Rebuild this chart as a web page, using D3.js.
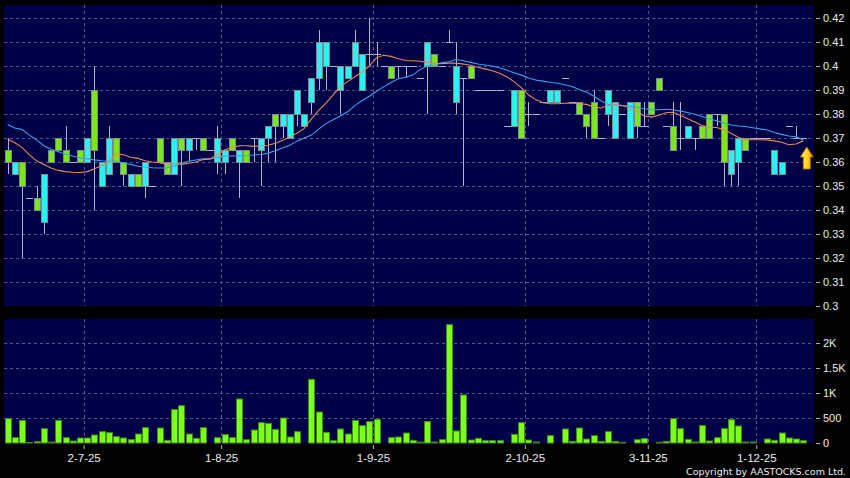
<!DOCTYPE html>
<html>
<head>
<meta charset="utf-8">
<script src="https://cdn.jsdelivr.net/npm/d3@7"></script>
<style>
body { margin: 0; background: #000; }
svg { display: block; font-family: "DejaVu Sans", Verdana, sans-serif; }
</style>
</head>
<body>
<div id="chart"></div>
<script>
// daily candles, one entry per trading day (oldest first)
var openV = [
	.365,.355,.36,.345,.345,.335,.365,.37,.365,.36,
	.365,.36,.39,.35,.355,.37,.36,.35,.355,.35,
	.35,.37,.36,.355,.37,.365,.37,.37,.365,.36,
	.36,.37,.36,.365,.37,.365,.37,.38,.375,.37,
	.38,.375,.385,.395,.40,.40,.39,.395,.40,.39,
	.405,.405,.40,.40,.40,.40,.40,.395,.40,.405,
	.40,.41,.385,.395,.40,.39,.39,.39,.39,.375,
	.375,.39,.38,.38,.385,.385,.385,.395,.385,.385,
	.38,.385,.37,.38,.37,.38,.37,.385,.375,.385,
	.395,.375,.375,.37,.37,.37,.375,.38,.38,.38,
	.355,.36,.37,.37,.37,.37,.355,.355,.375,.37,
	.37];
var highV = [
	.37,.36,.36,.345,.35,.355,.365,.37,.375,.36,
	.365,.37,.40,.36,.375,.37,.36,.355,.355,.36,
	.35,.37,.36,.37,.37,.37,.37,.37,.365,.375,
	.365,.37,.365,.365,.37,.37,.375,.38,.38,.38,
	.39,.38,.395,.415,.41,.40,.40,.40,.415,.405,
	.42,.41,.40,.40,.40,.40,.40,.395,.41,.405,
	.40,.415,.41,.395,.40,.39,.39,.39,.39,.375,
	.39,.39,.385,.38,.385,.39,.39,.395,.385,.385,
	.38,.39,.37,.39,.385,.38,.385,.385,.385,.385,
	.395,.375,.385,.385,.375,.37,.375,.38,.38,.38,
	.365,.37,.37,.37,.37,.37,.365,.36,.375,.375,
	.37];
var lowV = [
	.355,.355,.32,.345,.34,.33,.36,.365,.36,.36,
	.36,.36,.34,.35,.355,.36,.35,.35,.35,.345,
	.35,.36,.355,.355,.35,.36,.365,.365,.365,.355,
	.355,.365,.345,.36,.36,.35,.36,.36,.37,.37,
	.375,.375,.38,.39,.39,.40,.38,.395,.40,.39,
	.40,.40,.40,.395,.395,.395,.40,.395,.38,.40,
	.40,.41,.38,.35,.395,.39,.39,.39,.39,.375,
	.375,.37,.375,.38,.385,.385,.385,.395,.385,.38,
	.37,.37,.37,.375,.37,.38,.37,.37,.375,.38,
	.39,.375,.365,.365,.37,.365,.37,.37,.375,.35,
	.35,.35,.365,.37,.37,.37,.355,.355,.375,.37,
	.37];
var closeV = [
	.36,.36,.35,.345,.34,.355,.36,.365,.36,.36,
	.36,.37,.365,.36,.37,.36,.355,.355,.35,.36,
	.35,.36,.355,.37,.365,.37,.37,.365,.365,.37,
	.365,.365,.365,.36,.37,.37,.375,.375,.38,.38,
	.39,.38,.395,.41,.41,.40,.40,.40,.41,.405,
	.405,.405,.40,.395,.40,.40,.40,.395,.41,.40,
	.40,.41,.40,.395,.395,.39,.39,.39,.39,.375,
	.39,.37,.38,.38,.385,.39,.39,.395,.385,.38,
	.375,.37,.37,.39,.385,.38,.385,.375,.375,.38,
	.39,.375,.365,.37,.375,.37,.37,.37,.38,.36,
	.365,.37,.365,.37,.37,.37,.365,.36,.375,.37,
	.37];
var volumeV = [
	487,107,453,10,27,287,20,453,107,40,
	100,100,160,227,207,127,100,67,180,307,
	0,300,53,667,747,180,93,307,0,107,
	167,107,880,67,260,407,393,273,500,120,
	227,0,1273,620,213,47,280,180,453,347,
	427,473,0,107,120,200,53,20,430,20,
	67,2367,240,960,60,93,47,47,47,0,
	173,407,60,20,0,147,0,280,33,300,
	80,147,33,227,33,13,0,67,87,0,
	13,33,487,287,73,20,347,40,107,287,
	467,340,20,20,0,80,53,200,100,80,
	47];
// moving averages
var maShort = [
	.3695,.3680,.3660,.3630,.3605,.3590,.3575,.3565,.3560,.3557,
	.3556,.3560,.3572,.3585,.3600,.3635,.3630,.3620,.3615,.3605,
	.3600,.3597,.3590,.3595,.3590,.3595,.3600,.3610,.3613,.3630,
	.3650,.3660,.3668,.3668,.3665,.3668,.3670,.3678,.3690,.3705,
	.3720,.3740,.3780,.3815,.3845,.3880,.3915,.3935,.3955,.3975,
	.4000,.4035,.4045,.4040,.4030,.4023,.4022,.4020,.4015,.4010,
	.4010,.4012,.4012,.4008,.4003,.3995,.3988,.3980,.3970,.3955,
	.3935,.3910,.3880,.3860,.3847,.3843,.3843,.3845,.3846,.3843,
	.3840,.3830,.3825,.3835,.3838,.3835,.3825,.3812,.3792,.3787,
	.3795,.3805,.3807,.3795,.3780,.3767,.3752,.3745,.3744,.3735,
	.3720,.3703,.3693,.3693,.3693,.3692,.3688,.3682,.3672,.3675,
	.3688];
var maLong = [
	.3756,.3742,.3735,.3712,.3692,.3668,.3653,.3643,.3632,.3625,
	.3617,.3613,.3609,.3605,.3603,.3603,.3597,.3590,.3582,.3578,
	.3576,.3575,.3575,.3583,.3595,.3603,.3608,.3613,.3613,.3620,
	.3624,.3625,.3626,.3627,.3629,.3631,.3637,.3647,.3658,.3670,
	.3687,.3700,.3712,.3737,.3760,.3776,.3792,.3809,.3835,.3856,
	.3874,.3895,.3914,.3931,.3947,.3953,.3962,.3985,.4000,.4005,
	.4013,.4018,.4027,.4022,.4015,.4008,.4004,.4000,.3993,.3983,
	.3972,.3962,.3950,.3942,.3937,.3932,.3928,.3922,.3915,.3902,
	.3892,.3875,.3855,.3840,.3837,.3835,.3832,.3828,.3822,.3818,
	.3818,.3820,.3818,.3812,.3806,.3799,.3790,.3780,.3772,.3763,
	.3754,.3750,.3748,.3743,.3738,.3733,.3723,.3715,.3708,.3705,
	.3692];

var priceTicks = [0.30,0.31,0.32,0.33,0.34,0.35,0.36,0.37,0.38,0.39,0.40,0.41,0.42];
var volTicks = [0,500,1000,1500,2000];
var volTickLabels = ["0","500","1K","1.5K","2K"];
var dateLabels = ["2-7-25","1-8-25","1-9-25","2-10-25","3-11-25","1-12-25"];
var dateIndex = [11,30,51,72,89,104];   // first trading day of each labelled date

var width = 850, height = 478;
var pane = {left: 4, right: 814};
var pricePane = {top: 5, bottom: 306};
var volPane = {top: 319, bottom: 443};

var colUp = "#2cf0f4", colDown = "#7ce61c";
var gridCol = "#55558f";

var svg = d3.select("#chart").append("svg")
	.attr("width", width)
	.attr("height", height);

svg.append("rect").attr("width", width).attr("height", height).attr("fill", "#000");

var n = openV.length;
var x = d3.scaleLinear().domain([0, n - 1]).range([7.7, 803.3]);
var yP = d3.scaleLinear().domain([0.30, 0.42]).range([306, 18]);
var yV = d3.scaleLinear().domain([0, 2480]).range([443, 319]);

// panels
[pricePane, volPane].forEach(function(p) {
	svg.append("rect")
		.attr("x", pane.left).attr("y", p.top)
		.attr("width", pane.right - pane.left)
		.attr("height", p.bottom - p.top)
		.attr("fill", "#000046");
});

// grid
var grid = svg.append("g")
	.attr("stroke", gridCol)
	.attr("stroke-width", 1)
	.attr("stroke-dasharray", "3,3");

grid.selectAll(".hp")
	.data(priceTicks.filter(function(d) { return d > 0.30; }))
	.enter().append("line")
		.attr("x1", pane.left).attr("x2", pane.right)
		.attr("y1", function(d) { return Math.round(yP(d)) + 0.5; })
		.attr("y2", function(d) { return Math.round(yP(d)) + 0.5; });

grid.selectAll(".hv")
	.data(volTicks.filter(function(d) { return d > 0; }))
	.enter().append("line")
		.attr("x1", pane.left).attr("x2", pane.right)
		.attr("y1", function(d) { return Math.round(yV(d)) + 0.5; })
		.attr("y2", function(d) { return Math.round(yV(d)) + 0.5; });

[pricePane, volPane].forEach(function(p) {
	grid.append("g").selectAll("line")
		.data(dateIndex)
		.enter().append("line")
			.attr("x1", function(d) { return Math.round(x(d - 0.5)) + 0.5; })
			.attr("x2", function(d) { return Math.round(x(d - 0.5)) + 0.5; })
			.attr("y1", p.top).attr("y2", p.bottom);
});

var idx = d3.range(n);

// wicks
svg.append("g")
	.selectAll("line")
	.data(idx.filter(function(i) { return highV[i] > lowV[i]; }))
	.enter().append("line")
		.attr("x1", function(i) { return Math.round(x(i)) + 0.5; })
		.attr("x2", function(i) { return Math.round(x(i)) + 0.5; })
		.attr("y1", function(i) { return yP(highV[i]); })
		.attr("y2", function(i) { return yP(lowV[i]); })
		.attr("stroke", "#b4b4c0")
		.attr("stroke-width", 1);

// flat days (open == close)
svg.append("g")
	.selectAll("line")
	.data(idx.filter(function(i) { return openV[i] == closeV[i]; }))
	.enter().append("line")
		.attr("x1", function(i) { return Math.round(x(i)) - 3; })
		.attr("x2", function(i) { return Math.round(x(i)) + 4; })
		.attr("y1", function(i) { return Math.round(yP(closeV[i])) + 0.5; })
		.attr("y2", function(i) { return Math.round(yP(closeV[i])) + 0.5; })
		.attr("stroke", "#b4b4c0")
		.attr("stroke-width", 1);

// bodies
svg.append("g")
	.selectAll("rect")
	.data(idx.filter(function(i) { return openV[i] != closeV[i]; }))
	.enter().append("rect")
		.attr("x", function(i) { return Math.round(x(i)) - 2.5; })
		.attr("y", function(i) { return Math.round(yP(Math.max(openV[i], closeV[i]))) + 0.5; })
		.attr("width", 6)
		.attr("height", function(i) { return Math.abs(Math.round(yP(openV[i])) - Math.round(yP(closeV[i]))); })
		.attr("fill", function(i) { return closeV[i] > openV[i] ? colUp : colDown; })
		.attr("stroke", "#7c8c8c")
		.attr("stroke-width", 1);

// moving averages
var maLine = d3.line()
	.x(function(d, i) { return x(i); })
	.y(function(d) { return yP(d); });

svg.append("path").datum(maLong)
	.attr("d", maLine).attr("fill", "none")
	.attr("stroke", "#3aa2ee").attr("stroke-width", 1.1);
svg.append("path").datum(maShort)
	.attr("d", maLine).attr("fill", "none")
	.attr("stroke", "#e48a58").attr("stroke-width", 1.1);

// last close marker
var last = n - 1;
var ax = x(last) + 3.5, ay = yP(closeV[last]) + 9;
var defs = svg.append("defs");
var grad = defs.append("linearGradient").attr("id", "arrowGrad")
	.attr("x1", "0").attr("x2", "1").attr("y1", "0").attr("y2", "0");
grad.append("stop").attr("offset", "0%").attr("stop-color", "#fff27a");
grad.append("stop").attr("offset", "55%").attr("stop-color", "#ffd21e");
grad.append("stop").attr("offset", "100%").attr("stop-color", "#e39a00");
svg.append("path")
	.attr("d", "M" + ax + "," + ay +
		" L" + (ax + 6.5) + "," + (ay + 10) +
		" L" + (ax + 3.5) + "," + (ay + 10) +
		" L" + (ax + 3.5) + "," + (ay + 22) +
		" L" + (ax - 3.5) + "," + (ay + 22) +
		" L" + (ax - 3.5) + "," + (ay + 10) +
		" L" + (ax - 6.5) + "," + (ay + 10) + " Z")
	.attr("fill", "url(#arrowGrad)")
	.attr("stroke", "#b07000")
	.attr("stroke-width", 0.8);

// volume
svg.append("g")
	.selectAll("rect")
	.data(idx.filter(function(i) { return volumeV[i] > 0; }))
	.enter().append("rect")
		.attr("x", function(i) { return Math.round(x(i)) - 2.5; })
		.attr("y", function(i) { return yV(volumeV[i]); })
		.attr("width", 6)
		.attr("height", function(i) { return volPane.bottom - yV(volumeV[i]); })
		.attr("fill", "#7cff1c")
		.attr("stroke", "#3f8c12")
		.attr("stroke-width", 1);

// axes
function styleAxis(g, size) {
	g.select(".domain").remove();
	g.selectAll(".tick line").attr("stroke", "#b0b0b0");
	g.selectAll(".tick text").attr("fill", "#ececec").style("font-size", size);
}

svg.append("g")
	.attr("transform", "translate(816,0)")
	.call(d3.axisRight(yP).tickValues(priceTicks).tickSize(4).tickPadding(3)
		.tickFormat(function(d) { return String(+d.toFixed(2)); }))
	.call(styleAxis, "11px");

svg.append("g")
	.attr("transform", "translate(816,0)")
	.call(d3.axisRight(yV).tickValues(volTicks).tickSize(4).tickPadding(3)
		.tickFormat(function(d, k) { return volTickLabels[k]; }))
	.call(styleAxis, "11px");

svg.append("g")
	.attr("transform", "translate(0,445)")
	.call(d3.axisBottom(x).tickValues(dateIndex.map(function(d) { return d - 0.5; })).tickSize(4).tickPadding(5)
		.tickFormat(function(d, k) { return dateLabels[k]; }))
	.call(styleAxis, "11.5px");

svg.append("text")
	.attr("x", 846).attr("y", 475)
	.attr("text-anchor", "end")
	.attr("fill", "#ececec")
	.style("font-size", "9.5px")
	.text("Copyright by AASTOCKS.com Ltd.");
</script>
</body>
</html>
